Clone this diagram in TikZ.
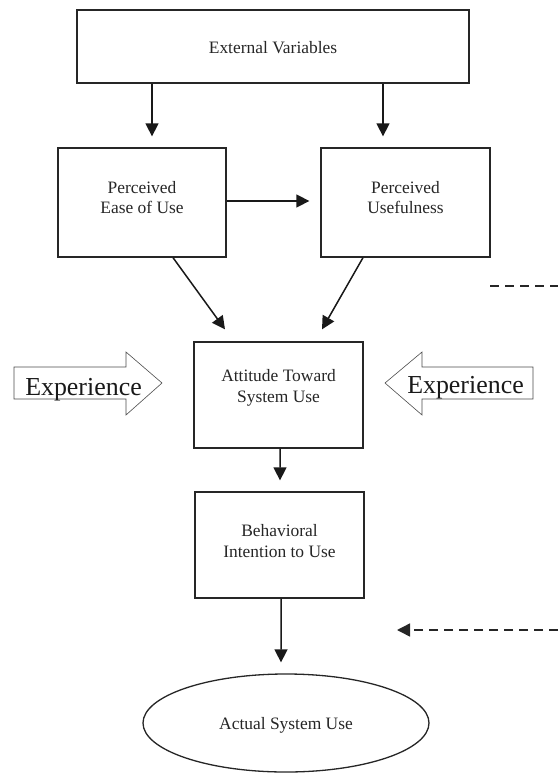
\documentclass[tikz,border=0pt]{standalone}
\usepackage{fontspec}
\setmainfont{Liberation Serif}
\usetikzlibrary{arrows.meta,shapes.geometric,calc}
\begin{document}
\begin{tikzpicture}[x=1bp,y=-1bp,
  box/.style={draw=black!85,line width=1.3bp,rectangle,inner sep=0pt},
  txt/.style={align=center,inner sep=0pt,font=\fontsize{17.5}{21}\selectfont,text=black!85},
  arr/.style={line width=1.5bp,draw=black!90,-{Triangle[length=13bp,width=13bp]}},
  exparrow/.style={draw=black!70,line width=0.6bp,fill=white},
  exptxt/.style={inner sep=0pt,anchor=base,font=\fontsize{26}{30}\selectfont,text=black!90},
  dsh/.style={line width=1.5bp,draw=black!85,dash pattern=on 9bp off 6bp}]
\useasboundingbox (0,0) rectangle (558,779);
% boxes
\node[box,minimum width=392bp,minimum height=73bp] (ev) at (273,46.5) {};
\node[txt] (evt) at ([yshift=-1bp]ev.center) {External Variables};
\node[box,minimum width=168bp,minimum height=109bp] (peou) at (142,202.5) {};
\node[txt] (peout) at ([yshift=5bp]peou.center) {Perceived\\Ease of Use};
\node[box,minimum width=169bp,minimum height=109bp] (pu) at (405.5,202.5) {};
\node[txt] (put) at ([yshift=5bp]pu.center) {Perceived\\Usefulness};
\node[box,minimum width=169bp,minimum height=106bp] (att) at (278.5,395) {};
\node[txt] (attt) at ([yshift=7bp]att.center) {Attitude Toward\\System Use};
\node[box,minimum width=169bp,minimum height=106bp] (bi) at (279.5,545) {};
\node[txt] (bit) at ([yshift=4bp]bi.center) {Behavioral\\Intention to Use};
\node[box,ellipse,minimum width=286bp,minimum height=98bp] (asu) at (286,723) {};
\node[txt] (asut) at ([yshift=-2bp]asu.center) {Actual System Use};
% connectors
\draw[arr] ([xshift=10bp]peou.north |- ev.south) -- ([xshift=10bp,yshift=11bp]peou.north);
\draw[arr] ([xshift=-22.5bp]pu.north |- ev.south) -- ([xshift=-22.5bp,yshift=11bp]pu.north);
\draw[arr] ([yshift=1.5bp]peou.east) -- ([xshift=-11bp,yshift=1.5bp]pu.west);
\draw[arr] ([xshift=31bp]peou.south) -- ([xshift=-53.5bp,yshift=12bp]att.north);
\draw[arr] ([xshift=-42.5bp]pu.south) -- ([xshift=43.5bp,yshift=12bp]att.north);
\draw[arr] ([xshift=1.5bp]att.south) -- ([xshift=0.5bp,yshift=11bp]bi.north);
\draw[arr] ([xshift=1.5bp]bi.south) -- ([xshift=-5bp,yshift=11bp]asu.north);
% experience arrows
\draw[exparrow] (14,367) -- (126,367) -- (126,352) -- (162,383) -- (126,415) -- (126,399) -- (14,399) -- cycle;
\node[exptxt] (expl) at (83.5,395) {Experience};
\draw[exparrow] (533,367) -- (422,367) -- (422,352) -- (385,383) -- (422,415) -- (422,399) -- (533,399) -- cycle;
\node[exptxt] (expr) at (465.5,393.5) {Experience};
% dashed lines
\coordinate (d1a) at (490,286);
\coordinate (d1b) at (558,286);
\draw[dsh] (d1a) -- (d1b);
\coordinate (d2a) at (558,630);
\coordinate (d2b) at (397,630);
\draw[dsh,-{Triangle[length=13bp,width=13bp]}] (d2a) -- (d2b);
\end{tikzpicture}
\end{document}
